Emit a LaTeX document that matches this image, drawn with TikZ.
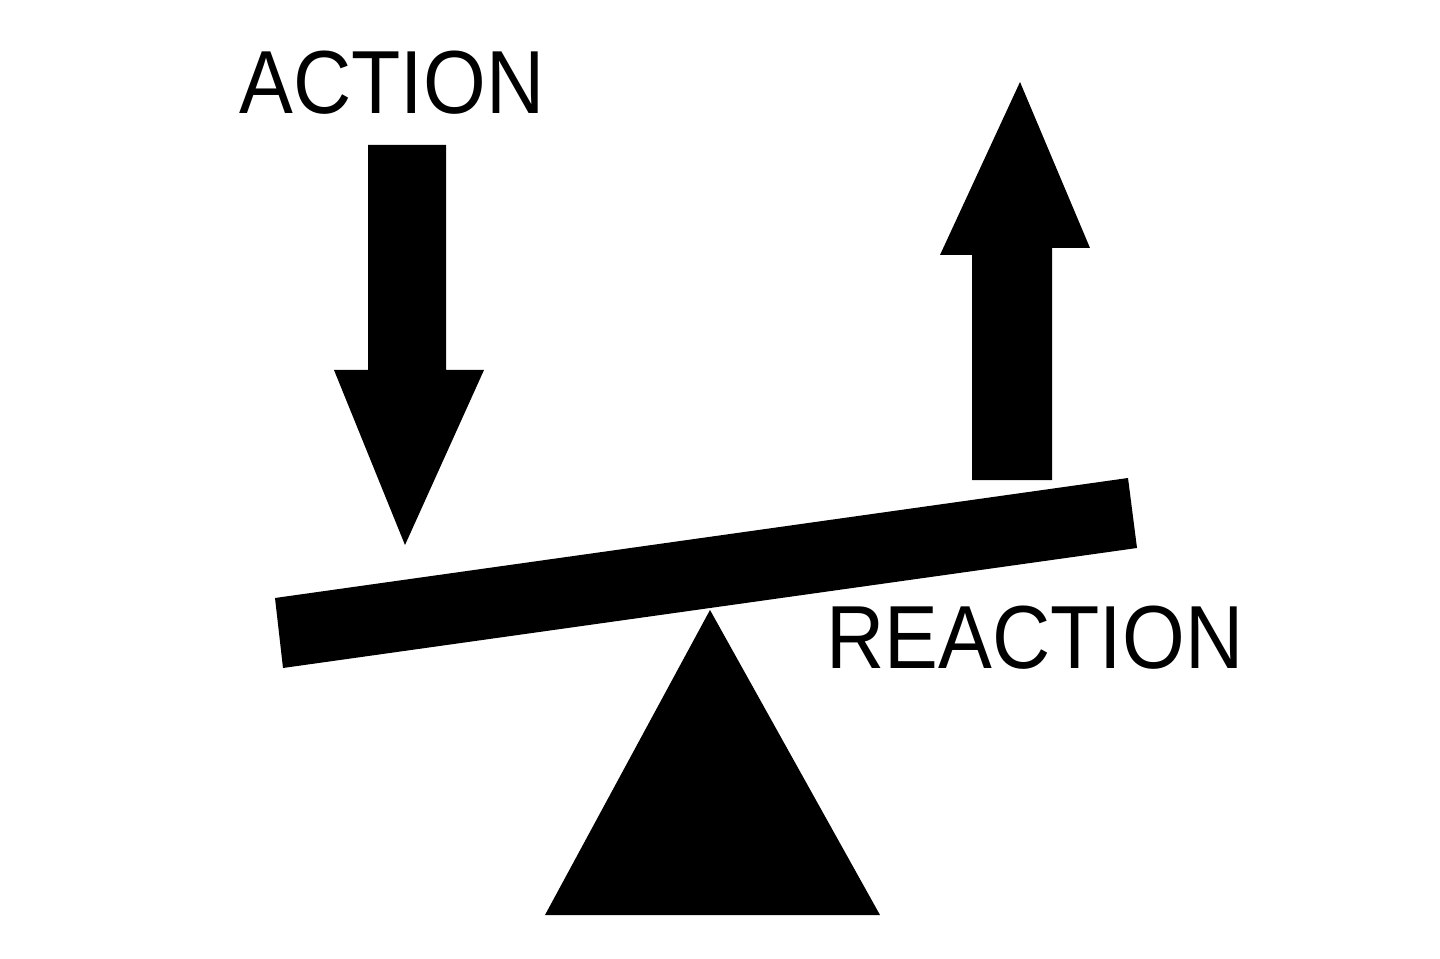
\documentclass[tikz,border=0pt]{standalone}
\usepackage{fontspec}
\setmainfont{Liberation Sans}
\tikzset{solid black/.style={fill=black, draw=none},
  word/.style={inner sep=0pt, font=\fontsize{51}{51}\selectfont, xscale=0.9}}
\begin{document}
\begin{tikzpicture}[x=0.02cm, y=-0.02cm]
  \useasboundingbox[fill=white] (0,0) rectangle (1440,959);

  % action arrow
  \fill[solid black] (368,145) -- (446,145) -- (446,370) -- (484,370) -- (405,545)
    -- (334,370) -- (368,370) -- cycle;
  % reaction arrow
  \fill[solid black] (972,480) -- (1052,480) -- (1052,248) -- (1090,248) -- (1020,82)
    -- (940,255) -- (972,255) -- cycle;

  % beam and pivot
  \fill[solid black] (275,598) -- (1128,478) -- (1137,548) -- (283,668) -- cycle;
  \fill[solid black] (545,915) -- (880,915) -- (710,610) -- cycle;

  % labels
  \node[word, anchor=center] (action) at (392,83) {ACTION};
  \node[word, anchor=center] (reaction) at (1035,638) {REACTION};
\end{tikzpicture}
\end{document}
